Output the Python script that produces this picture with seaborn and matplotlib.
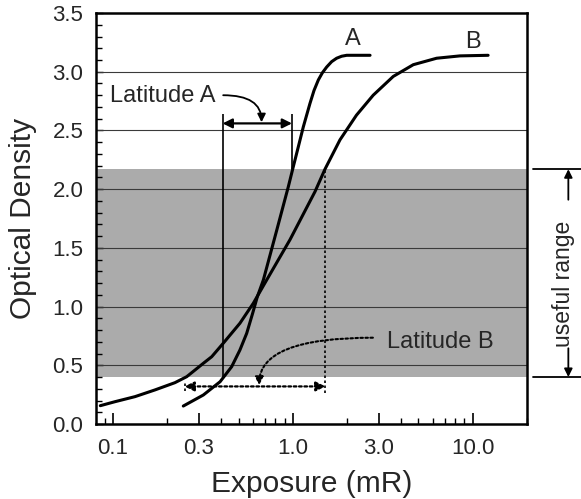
import numpy as np
import pandas as pd
import matplotlib.pyplot as plt
import seaborn as sns
from matplotlib.ticker import FixedLocator, FixedFormatter, LogLocator, MultipleLocator, NullFormatter

# film characteristic curves
a_exposure = [0.246, 0.318, 0.394, 0.457, 0.508, 0.554, 0.598, 0.635, 0.686, 0.814,
              0.944, 1.006, 1.073, 1.144, 1.246, 1.312, 1.387, 1.459, 1.543, 1.645,
              1.753, 1.87, 1.995, 2.69]
a_density = [0.153, 0.247, 0.36, 0.488, 0.63, 0.772, 0.943, 1.084, 1.227, 1.65,
             2.02, 2.19, 2.36, 2.53, 2.73, 2.84, 2.93, 2.99, 3.04, 3.086,
             3.115, 3.132, 3.14, 3.14]
b_exposure = [0.085, 0.1026, 0.1325, 0.171, 0.221, 0.257, 0.286, 0.318, 0.354, 0.41,
              0.508, 0.603, 0.716, 0.965, 1.33, 1.51, 1.83, 2.26, 2.80, 3.62,
              4.68, 6.31, 8.51, 12.2]
b_density = [0.156, 0.19, 0.233, 0.29, 0.352, 0.403, 0.46, 0.517, 0.573, 0.687,
             0.858, 1.028, 1.227, 1.57, 1.98, 2.17, 2.42, 2.63, 2.80, 2.96,
             3.06, 3.115, 3.135, 3.14]

useful_range = [0.40, 2.17]
latitude_a = [0.407, 0.99]
latitude_b = [0.25, 1.52]
lat_a_top = 2.64
lat_a_arrow_y = 2.56
lat_b_bottom = 0.26
lat_b_arrow_y = 0.32

x_ticks = [0.1, 0.3, 1.0, 3.0, 10.0]
x_ticklabels = ["0.1", "0.3", "1.0", "3.0", "10.0"]
y_ticks = [0.0, 0.5, 1.0, 1.5, 2.0, 2.5, 3.0, 3.5]

df = pd.concat([
    pd.DataFrame({"exposure": a_exposure, "density": a_density, "film": "A"}),
    pd.DataFrame({"exposure": b_exposure, "density": b_density, "film": "B"}),
])

sns.set_theme(style="white")
plt.rcParams["font.family"] = ["Liberation Sans", "DejaVu Sans"]

fig = plt.figure(figsize=(5.81, 4.99), dpi=100)
ax = fig.add_axes([0.1652, 0.1503, 0.7418, 0.8236])

ax.axhspan(useful_range[0], useful_range[1], color="#ababab", lw=0, zorder=0.5)
for yv in y_ticks[1:-1]:
    ax.axhline(yv, color="#3a3a3a", lw=0.8, zorder=1)

sns.lineplot(data=df, x="exposure", y="density", hue="film", palette=["black", "black"],
             legend=False, estimator=None, sort=False, lw=2.2, ax=ax, zorder=3)

ax.set_xscale("log")
ax.set_xlim(0.0804, 20.07)
ax.set_ylim(0, 3.5)

ax.xaxis.set_major_locator(FixedLocator(x_ticks))
ax.xaxis.set_major_formatter(FixedFormatter(x_ticklabels))
ax.xaxis.set_minor_locator(LogLocator(base=10, subs=np.arange(2, 10)))
ax.xaxis.set_minor_formatter(NullFormatter())
ax.yaxis.set_major_locator(FixedLocator(y_ticks))
ax.yaxis.set_major_formatter(FixedFormatter([f"{v:.1f}" for v in y_ticks]))
ax.yaxis.set_minor_locator(MultipleLocator(0.1))

ax.tick_params(axis="both", which="both", direction="in", color="black",
               bottom=True, left=True, top=False, right=False)
ax.tick_params(axis="x", which="major", length=8, width=1.2, labelsize=16, pad=10)
ax.tick_params(axis="x", which="minor", length=4, width=1.0)
ax.tick_params(axis="y", which="major", length=5, width=1.0, labelsize=16, pad=9)
ax.tick_params(axis="y", which="minor", length=4, width=1.0)

for sp in ax.spines.values():
    sp.set_visible(True)
    sp.set_color("black")
    sp.set_linewidth(1.8)

ax.set_xlabel("Exposure (mR)", fontsize=21.5)
ax.set_ylabel("Optical Density", fontsize=21.5)
ax.xaxis.set_label_coords(0.5, -0.112)
ax.yaxis.set_label_coords(-0.137, 0.5)

# curve names
ax.text(2.15, 3.28, "A", fontsize=17, ha="center", va="center")
ax.text(10.1, 3.25, "B", fontsize=17, ha="center", va="center")

# latitude A
ax.vlines(latitude_a[0], useful_range[0], lat_a_top, color="black", lw=1.2, zorder=2)
ax.vlines(latitude_a[1], useful_range[1], lat_a_top, color="black", lw=1.2, zorder=2)
ax.annotate("", xy=(latitude_a[1], lat_a_arrow_y), xytext=(latitude_a[0], lat_a_arrow_y),
            arrowprops=dict(arrowstyle="<|-|>", color="black", lw=1.6, mutation_scale=14,
                            shrinkA=0, shrinkB=0))
ax.text(0.19, 2.79, "Latitude A", fontsize=17, ha="center", va="center")
ax.annotate("", xy=(0.67, lat_a_arrow_y + 0.01), xytext=(0.41, 2.80),
            arrowprops=dict(arrowstyle="-|>", color="black", lw=1.3, mutation_scale=12,
                            shrinkA=0, shrinkB=0,
                            connectionstyle="angle3,angleA=0,angleB=90"))

# latitude B
ax.vlines(latitude_b[1], lat_b_bottom, useful_range[1], color="black", lw=1.2,
          linestyles=(0, (1.5, 1.5)), zorder=2)
ax.vlines(latitude_b[0], 0.28, 0.36, color="black", lw=1.2,
          linestyles=(0, (1.5, 1.5)), zorder=2)
ax.annotate("", xy=(latitude_b[1], lat_b_arrow_y), xytext=(latitude_b[0], lat_b_arrow_y),
            arrowprops=dict(arrowstyle="<|-|>", color="black", lw=1.6, ls=(0, (1.2, 1.2)),
                            mutation_scale=14, shrinkA=0, shrinkB=0))
ax.text(6.6, 0.70, "Latitude B", fontsize=17, ha="center", va="center")
ax.annotate("", xy=(0.65, lat_b_arrow_y + 0.01), xytext=(2.79, 0.735),
            arrowprops=dict(arrowstyle="-|>", color="black", lw=1.5, ls=(0, (1.2, 1.2)),
                            mutation_scale=12, shrinkA=0, shrinkB=0,
                            connectionstyle="angle3,angleA=0,angleB=90"))

# useful range marker outside the axes
tr = ax.get_yaxis_transform()
for yv in useful_range:
    ax.plot([1.014, 1.13], [yv, yv], color="black", lw=1.3, transform=tr, clip_on=False)
ax.annotate("", xy=(1.096, useful_range[1]), xytext=(1.096, 1.91), xycoords=tr, textcoords=tr,
            arrowprops=dict(arrowstyle="-|>", color="black", lw=1.3, mutation_scale=12,
                            shrinkA=0, shrinkB=0))
ax.annotate("", xy=(1.096, useful_range[0]), xytext=(1.096, 0.645), xycoords=tr, textcoords=tr,
            arrowprops=dict(arrowstyle="-|>", color="black", lw=1.3, mutation_scale=12,
                            shrinkA=0, shrinkB=0))
ax.text(1.085, 1.19, "useful range", fontsize=16.5, rotation=90, ha="center", va="center",
        transform=tr)

fig.savefig("out.png", dpi=100)
plt.close(fig)
